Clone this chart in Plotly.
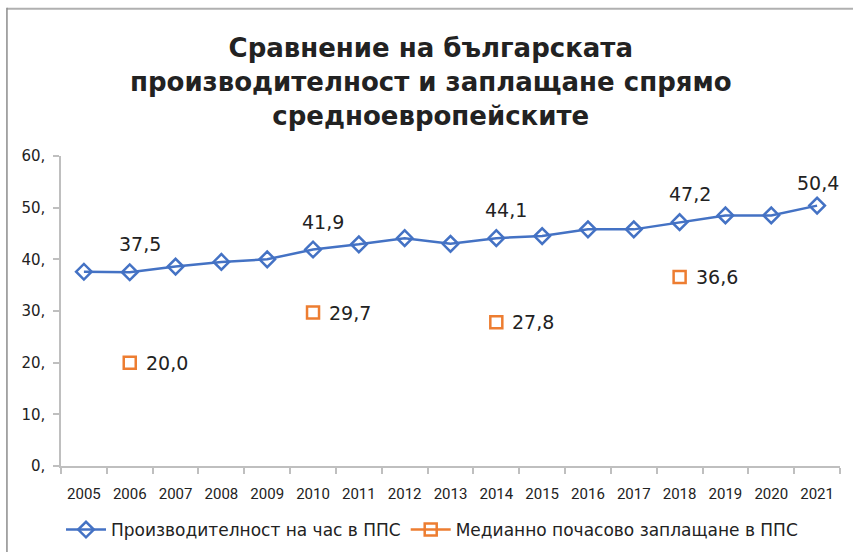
import plotly.graph_objects as go

years = [str(y) for y in range(2005, 2022)]
productivity = [37.6, 37.5, 38.6, 39.5, 40.0, 41.9, 42.9, 44.1, 43.0, 44.1, 44.5,
                45.8, 45.8, 47.2, 48.5, 48.5, 50.4]
wage_years = ["2006", "2010", "2014", "2018"]
wages = [20.0, 29.7, 27.8, 36.6]
labelled_years = ["2006", "2010", "2014", "2018", "2021"]
y_ticks = [0, 10, 20, 30, 40, 50, 60]
y_ticktext = [f"{v}," for v in y_ticks]

title = "Сравнение на българската<br>производителност и заплащане спрямо<br>средноевропейските"
name_prod = "Производителност на час в ППС"
name_wage = "Медианно почасово заплащане в ППС"

BLUE = "#4472C4"
ORANGE = "#ED7D31"
TXT = "#222222"
AXIS = "#BFBFBF"


def fmt(v):
    return f"{v:.1f}".replace(".", ",")


wage_map = dict(zip(wage_years, wages))
wage_full = [wage_map.get(y) for y in years]

fig = go.Figure()
fig.add_trace(go.Scatter(
    x=years, y=productivity, mode="lines+markers", name=name_prod,
    line=dict(color=BLUE, width=2.5),
    marker=dict(symbol="diamond-open", size=12, color=BLUE, line=dict(width=2.5, color=BLUE)),
))
fig.add_trace(go.Scatter(
    x=years, y=wage_full, mode="lines+markers", name=name_wage, connectgaps=False,
    line=dict(color=ORANGE, width=2.5),
    marker=dict(symbol="square-open", size=12, color=ORANGE, line=dict(width=2.5, color=ORANGE)),
))

LBL_FONT = dict(size=19, color=TXT, family="DejaVu Sans, Arial, sans-serif")
annotations = []
for yr, v in zip(years, productivity):
    if yr in labelled_years:
        last = yr == years[-1]
        annotations.append(dict(
            x=years.index(yr), y=v, xref="x", yref="y", text=fmt(v), showarrow=False,
            xanchor="center", yanchor="middle", xshift=1 if last else 10,
            yshift=23 if last else 28,
            font=LBL_FONT,
        ))
for yr, v in zip(wage_years, wages):
    annotations.append(dict(
        x=years.index(yr), y=v, xref="x", yref="y", text=fmt(v), showarrow=False,
        xanchor="left", yanchor="middle", xshift=14,
        font=LBL_FONT,
    ))

fig.update_layout(
    width=853, height=552,
    margin=dict(l=61, r=13, t=156, b=86, autoexpand=False),
    paper_bgcolor="white", plot_bgcolor="white",
    title=dict(text=title, x=0.505, xanchor="center", y=1 - 57 / 552, yanchor="middle",
               yref="container",
               font=dict(size=26, color=TXT, family="DejaVu Sans, sans-serif", weight="bold")),
    showlegend=True,
    legend=dict(orientation="h", x=0.0, xanchor="left", yref="container",
                y=1 - 530 / 552, yanchor="middle",
                font=dict(size=17, color=TXT, family="DejaVu Sans, Arial, sans-serif"),
                itemwidth=40, traceorder="normal"),
    annotations=annotations,
    shapes=[
        dict(type="line", xref="paper", yref="paper", x0=-0.0694, x1=1.05,
             y0=1.475, y1=1.475, line=dict(color="#B0B0B0", width=2)),
        dict(type="line", xref="paper", yref="paper", x0=-0.0694, x1=-0.0694,
             y0=1.478, y1=-0.4, line=dict(color="#8C8C8C", width=1.5)),
    ],
)
fig.update_xaxes(
    type="category", categoryorder="array", categoryarray=years,
    range=[-0.5, len(years) - 0.5], automargin=False,
    showline=True, linecolor=AXIS, linewidth=1.5, showgrid=False,
    ticks="outside", tickson="boundaries", ticklen=6, tickcolor=AXIS, tickwidth=1.5,
    ticklabelstandoff=13,
    tickfont=dict(size=15, color=TXT, family="Roboto, Arial, sans-serif"),
)
fig.update_yaxes(
    range=[0, 60], tickvals=y_ticks, ticktext=y_ticktext, automargin=False,
    showline=True, linecolor=AXIS, linewidth=1.5, showgrid=False, zeroline=False,
    ticks="outside", ticklen=6, tickcolor=AXIS, tickwidth=1.5,
    ticklabelstandoff=5,
    tickfont=dict(size=15, color=TXT, family="DejaVu Sans, Arial, sans-serif"),
)

fig.write_html("out.html")
